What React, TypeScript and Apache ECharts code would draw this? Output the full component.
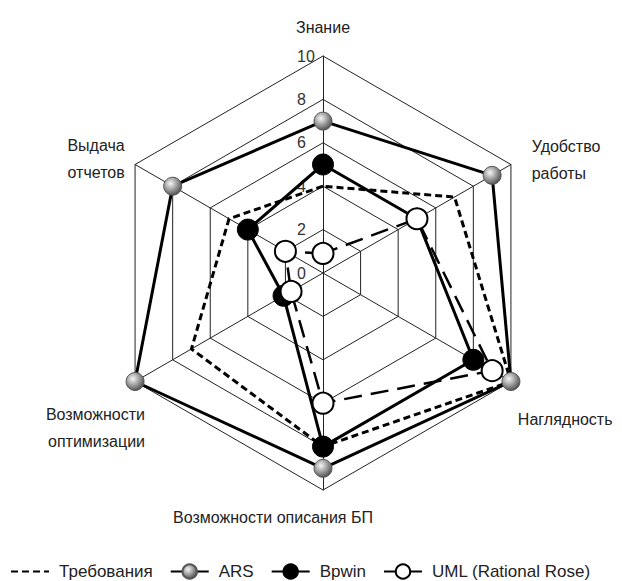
import React, { useEffect, useRef } from "react";
import * as echarts from "echarts";

// ---- data ----
// indicator order (counter-clockwise from the top, as ECharts lays them out)
const indicatorNames = [
  "Знание",
  "Выдача\nотчетов",
  "Возможности\nоптимизации",
  "Возможности описания БП",
  "Наглядность",
  "Удобство\nработы",
];
const axisMax = 10;
const axisSplit = 5; // ticks 0,2,4,6,8,10

const seriesNames = ["Требования", "ARS", "Bpwin", "UML (Rational Rose)"];
const requirementsValues = [4, 5, 7, 8, 10, 7];
const arsValues = [7, 8, 10, 9, 10, 9];
const bpwinValues = [5, 4, 2.1, 8, 8, 5];
const umlValues = [0.9, 2, 1.7, 6, 9, 5];

// ---- layout for indicator names (gap / alignment / padding) ----
const nameLayout: any[] = [
  { gap: 15 },
  { gap: 12 },
  { gap: -11.5, verticalAlign: "top", padding: [25, 0, 0, 0] },
  { gap: 14, padding: [0, 100, 0, 0] },
  { gap: 8, verticalAlign: "top", padding: [20, 0, 0, 0] },
  { gap: 9, padding: [0, 0, 0, 13] },
];

const FONT = '"Liberation Sans", Arial, sans-serif';

export default function App() {
  const ref = useRef<HTMLDivElement>(null);

  useEffect(() => {
    if (!ref.current) return;
    const chart = echarts.init(ref.current, undefined, { renderer: "svg" });

    const sphere = new echarts.graphic.RadialGradient(0.38, 0.35, 0.7, [
      { offset: 0, color: "#f6f6f6" },
      { offset: 0.5, color: "#a0a0a0" },
      { offset: 1, color: "#4a4a4a" },
    ]);

    const indicator = indicatorNames.map((name, i) => {
      const lay = nameLayout[i];
      const nts: any = {};
      if (lay.padding) nts.padding = lay.padding;
      if (lay.verticalAlign) nts.verticalAlign = lay.verticalAlign;
      const item: any = {
        name,
        max: axisMax,
        min: 0,
        nameGap: lay.gap,
        nameTextStyle: nts,
      };
      if (i === 0) {
        item.axisLabel = {
          show: true,
          fontSize: 16,
          fontFamily: FONT,
          color: "#333",
          margin: 26,
          align: "left",
          showMinLabel: true,
          showMaxLabel: true,
        };
      }
      return item;
    });

    const styles: any[] = [
      {
        lineStyle: { color: "#000", width: 3, type: [7, 4] },
        symbol: "none",
        symbolSize: 0,
        itemStyle: { color: "rgba(0,0,0,0)", borderWidth: 0 },
      },
      {
        lineStyle: { color: "#000", width: 3, type: "solid" },
        symbol: "circle",
        symbolSize: 18,
        itemStyle: { color: sphere, borderColor: "#555", borderWidth: 1 },
      },
      {
        lineStyle: { color: "#000", width: 3, type: "solid" },
        symbol: "circle",
        symbolSize: 21,
        itemStyle: { color: "#000", borderColor: "#000", borderWidth: 1 },
      },
      {
        lineStyle: { color: "#000", width: 2.5, type: [18, 9] },
        symbol: "circle",
        symbolSize: 21,
        itemStyle: { color: "#fff", borderColor: "#000", borderWidth: 2 },
      },
    ];

    const valuesList = [requirementsValues, arsValues, bpwinValues, umlValues];
    const drawOrder = [0, 2, 3, 1];

    const radarSeries = drawOrder.map((k) => ({
      type: "radar",
      name: "radar-" + seriesNames[k],
      radarIndex: 0,
      symbol: styles[k].symbol,
      symbolSize: styles[k].symbolSize,
      lineStyle: styles[k].lineStyle,
      itemStyle: styles[k].itemStyle,
      data: [{ name: seriesNames[k], value: valuesList[k] }],
    }));

    // empty line series that only provide the line+symbol legend icons
    const legendSeries = seriesNames.map((n, k) => ({
      type: "line",
      name: n,
      xAxisIndex: 0,
      yAxisIndex: 0,
      data: [],
      symbol: "circle",
      symbolSize: styles[k].symbolSize,
      lineStyle: styles[k].lineStyle,
      itemStyle: styles[k].itemStyle,
    }));

    chart.setOption({
      animation: false,
      backgroundColor: "#fff",
      textStyle: { fontFamily: FONT },
      grid: { show: false, left: 0, top: 0, width: 1, height: 1 },
      xAxis: { show: false, type: "category", data: [] },
      yAxis: { show: false, type: "value" },
      legend: {
        data: seriesNames,
        left: 5,
        top: 558,
        itemWidth: 38,
        itemHeight: 18,
        itemGap: 17,
        textStyle: {
          fontSize: 17,
          color: "#222",
          fontFamily: FONT,
          padding: [0, 0, 0, 5],
        },
      },
      radar: {
        center: [323, 273],
        radius: 217,
        startAngle: 90,
        splitNumber: axisSplit,
        shape: "polygon",
        indicator,
        axisName: {
          color: "#222",
          fontSize: 16,
          fontFamily: FONT,
          lineHeight: 27,
        },
        axisLabel: { show: false },
        axisLine: { lineStyle: { color: "#222", width: 1 } },
        splitLine: { lineStyle: { color: "#222", width: 1 } },
        splitArea: { show: false },
        axisTick: { show: false },
      },
      series: [...radarSeries, ...legendSeries],
    });

    return () => chart.dispose();
  }, []);

  return (
    <div
      ref={ref}
      style={{ position: "fixed", left: 0, top: 0, width: 622, height: 581 }}
    />
  );
}
